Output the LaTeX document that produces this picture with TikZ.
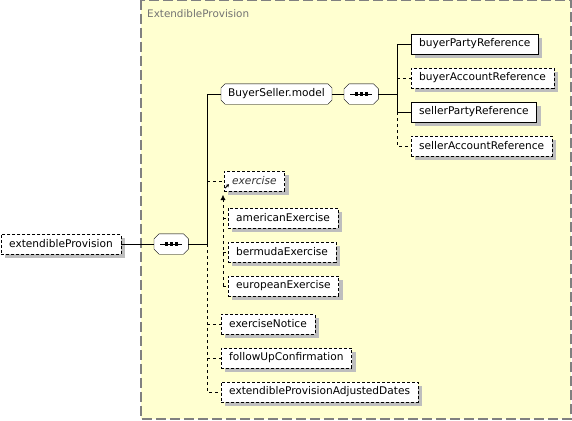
\documentclass[tikz,border=0pt]{standalone}
\usepackage{fontspec}
\setmainfont{DejaVu Sans}
\usepackage{xcolor}
\usepackage{tikz}
\usetikzlibrary{arrows.meta,backgrounds,shadows,positioning}

\definecolor{groupfill}{RGB}{255,255,208}
\definecolor{groupline}{RGB}{128,128,128}
\definecolor{shadowgray}{RGB}{190,190,190}

\tikzset{
  shadowbox/.style={drop shadow={shadow xshift=4pt,shadow yshift=-4pt,fill=shadowgray,opacity=1}},
  elem/.style={draw,fill=white,shadowbox,anchor=west,minimum height=20pt,
    inner xsep=8pt,inner ysep=0pt,font=\fontsize{10.6}{12}\selectfont},
  optelem/.style={elem,dash pattern=on 3pt off 2pt},
  model/.style={anchor=west,minimum height=20pt,inner xsep=7pt,inner ysep=0pt,
    font=\fontsize{10.6}{12}\selectfont},
  seqbox/.style={anchor=west,minimum width=34pt,minimum height=20pt,inner sep=0pt},
  octshadow/.style={fill=shadowgray},
  octface/.style={draw,fill=white},
  groupbox/.style={draw=groupline,fill=groupfill,line width=1.5pt,dash pattern=on 10pt off 4pt},
}

\begin{document}
\begin{tikzpicture}[x=1pt,y=-1pt]
	\useasboundingbox (0,0) rectangle (572,420);

	\node[anchor=base west,text=black!55,inner sep=0pt,font=\fontsize{10.4}{12}\selectfont]
	  (grouptitle) at (147,18) {ExtendibleProvision};

	% root and first sequence
	\node[optelem] (ep) at (1,244) {extendibleProvision};
	\node[seqbox] (seq1) at (154,244) {};
	\coordinate (trunk) at (207,244);

	% buyer / seller group
	\node[model] (bsm) at (221,94) {BuyerSeller.model};
	\node[seqbox] (seq2) at (344,94) {};
	\coordinate (fork) at (397,94);

	\node[elem]    (bpr) at (411,44)  {buyerPartyReference};
	\node[optelem] (bar) at (411,78)  {buyerAccountReference};
	\node[elem]    (spr) at (411,112) {sellerPartyReference};
	\node[optelem] (sar) at (411,146) {sellerAccountReference};

	% exercise and its substitutes
	\node[optelem,font=\fontsize{10.6}{12}\selectfont\itshape,text=black!80] (ex) at (224,181) {exercise};
	\coordinate (subtop) at (223,195);
	\node[optelem] (am) at (228,218) {americanExercise};
	\node[optelem] (bm) at (228,252) {bermudaExercise};
	\node[optelem] (eu) at (228,286) {europeanExercise};

	% remaining elements
	\node[optelem] (en)   at (221,324) {exerciseNotice};
	\node[optelem] (fu)   at (221,358) {followUpConfirmation};
	\node[optelem] (epad) at (221,392) {extendibleProvisionAdjustedDates};

	% sequence marks
	\foreach \s in {seq1,seq2} {
	  \draw ([xshift=-11pt]\s.center) -- ([xshift=11pt]\s.center);
	  \foreach \d in {-5,0,5}
	    \fill ([xshift=\d pt]\s.center) +(-1.6,-1.6) rectangle +(1.6,1.6);
	}

	% \draw connectors
	\draw (ep.east) -- (seq1.west);
	\draw (seq1.east) -- (trunk) |- (bsm.west);
	\draw[dashed] (trunk) |- (epad.west);
	\draw[dashed] (trunk |- ex.west) -- (ex.west);
	\draw[dashed] (trunk |- en.west) -- (en.west);
	\draw[dashed] (trunk |- fu.west) -- (fu.west);

	\draw (bsm.east) -- (seq2.west);
	\draw (seq2.east) -- (fork);
	\draw (fork) |- (bpr.west);
	\draw (fork) |- (spr.west);
	\draw[dashed] (fork |- bar.west) -- (bar.west);
	\draw[dashed] (fork |- spr.west) |- (sar.west);

	% \draw substitution group
	\draw[dashed,-{Latex[length=5pt,width=5pt]}] (subtop |- eu.west) -- (subtop);
	\draw[dashed] (subtop |- am.west) -- (am.west);
	\draw[dashed] (subtop |- bm.west) -- (bm.west);
	\draw[dashed] (subtop |- eu.west) -- (eu.west);
	\draw[line width=0.8pt,-{Stealth[length=3pt,width=3.5pt]}] (ex.south west) ++(1,-3) -- ++(4,-4);

	\begin{pgfonlayer}{background}
	  % group frame
	  \draw[groupbox] (141,0) rectangle (571,419);
	  % \draw octagons with shadow
	  \foreach \n/\c in {bsm/4,seq1/5,seq2/5} {
	    \foreach \sh/\st in {4/octshadow,0/octface} {
	      \path[\st,shift={(\sh,\sh)}]
	        ([xshift=\c pt]\n.north west) -- ([xshift=-\c pt]\n.north east)
	        -- ([yshift=-\c pt]\n.north east) -- ([yshift=\c pt]\n.south east)
	        -- ([xshift=-\c pt]\n.south east) -- ([xshift=\c pt]\n.south west)
	        -- ([yshift=\c pt]\n.south west) -- ([yshift=-\c pt]\n.north west) -- cycle;
	    }
	  }
	\end{pgfonlayer}
\end{tikzpicture}
\end{document}
